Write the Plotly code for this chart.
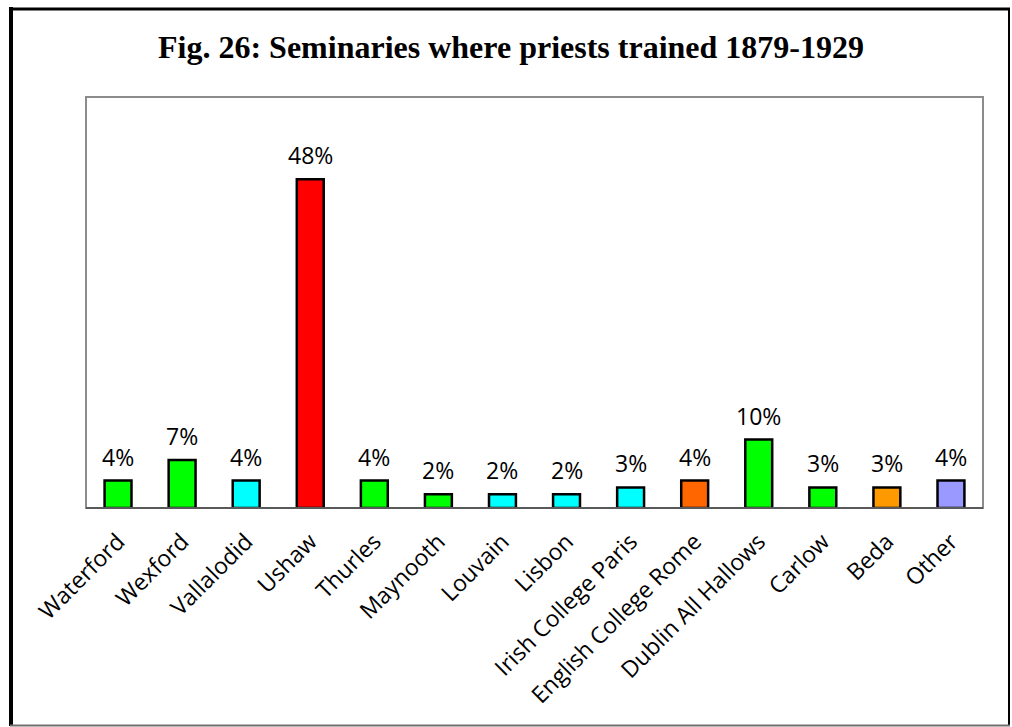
import plotly.graph_objects as go

categories = ["Waterford", "Wexford", "Vallalodid", "Ushaw", "Thurles", "Maynooth",
              "Louvain", "Lisbon", "Irish College Paris", "English College Rome",
              "Dublin All Hallows", "Carlow", "Beda", "Other"]
values = [4, 7, 4, 48, 4, 2, 2, 2, 3, 4, 10, 3, 3, 4]
labels = ["4%", "7%", "4%", "48%", "4%", "2%", "2%", "2%", "3%", "4%", "10%", "3%", "3%", "4%"]
colors = ["#00FF00", "#00FF00", "#00FFFF", "#FF0000", "#00FF00", "#00FF00",
          "#00FFFF", "#00FFFF", "#00FFFF", "#FF6600", "#00FF00", "#00FF00",
          "#FF9900", "#9999FF"]

W, H = 1012, 727
L, R, T, B = 86, 983, 97, 508  # plot area in px
pw, ph = R - L, B - T


def px_x(x):
    return (x - L) / pw


def px_y(y):
    return (B - y) / ph


fig = go.Figure()
fig.add_trace(go.Bar(
    x=categories, y=values,
    marker=dict(color=colors, line=dict(color="black", width=2.5)),
    width=0.42,
    hoverinfo="skip",
))

for c, v, t in zip(categories, values, labels):
    fig.add_annotation(x=c, y=v, text=t, showarrow=False, yanchor="bottom",
                       yshift=6, font=dict(family="Open Sans", size=23, color="black"))

shapes = []
# plot area border
shapes.append(dict(type="rect", xref="paper", yref="paper", x0=0, x1=1, y0=0, y1=1,
                   line=dict(color="#8c8c8c", width=2)))
# axis line
shapes.append(dict(type="line", xref="paper", yref="paper", x0=0, x1=1, y0=0, y1=0,
                   line=dict(color="#595959", width=2)))
# outer frame
shapes.append(dict(type="line", xref="paper", yref="paper", x0=px_x(11), x1=px_x(11),
                   y0=px_y(7), y1=px_y(726), line=dict(color="black", width=4)))
shapes.append(dict(type="line", xref="paper", yref="paper", x0=px_x(9), x1=px_x(1010),
                   y0=px_y(9), y1=px_y(9), line=dict(color="black", width=3)))
shapes.append(dict(type="line", xref="paper", yref="paper", x0=px_x(1009), x1=px_x(1009),
                   y0=px_y(8), y1=px_y(726), line=dict(color="black", width=2)))
shapes.append(dict(type="line", xref="paper", yref="paper", x0=px_x(10), x1=px_x(1010),
                   y0=px_y(725.5), y1=px_y(725.5), line=dict(color="#707070", width=2)))

fig.update_layout(
    width=W, height=H,
    margin=dict(l=L, r=W - R, t=T, b=H - B, autoexpand=False),
    paper_bgcolor="white", plot_bgcolor="white",
    showlegend=False,
    shapes=shapes,
    title=dict(text="<b>Fig. 26: Seminaries where priests trained 1879-1929</b>",
               x=511 / W, xref="container", xanchor="center",
               y=1 - 47 / H, yref="container", yanchor="middle",
               font=dict(family="Liberation Serif", size=32, color="black")),
    xaxis=dict(tickangle=-45, showgrid=False, zeroline=False, showline=False,
               ticks="outside", ticklen=10, tickcolor="rgba(0,0,0,0)",
               tickfont=dict(family="Open Sans", size=23, color="black"),
               fixedrange=True),
    yaxis=dict(range=[0, 60], visible=False, showgrid=False, zeroline=False,
               fixedrange=True),
)

fig.write_html("out.html", config={"displayModeBar": False},
               post_script="document.body.style.margin='0';document.body.style.overflow='hidden';")
